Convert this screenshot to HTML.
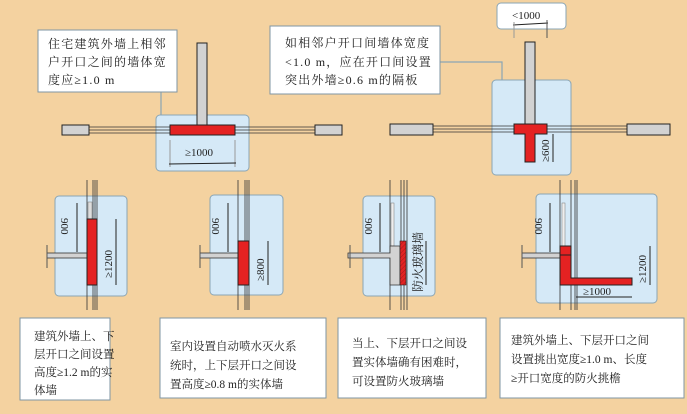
<!DOCTYPE html>
<html><head><meta charset="utf-8"><style>
html,body{margin:0;padding:0;background:#f4d2a0;}
.t{font-family:"Liberation Serif","Noto Serif CJK SC","Noto Sans CJK SC",serif;font-size:11.5px;fill:#222;}
.tt{font-family:"Liberation Serif","Noto Serif CJK SC","Noto Sans CJK SC",serif;font-size:12px;letter-spacing:1.2px;fill:#222;}
.d{font-family:"Liberation Serif",serif;font-size:11px;fill:#222;}
</style></head><body>
<svg width="687" height="409" viewBox="0 0 687 409" xmlns="http://www.w3.org/2000/svg">
<defs><pattern id="h" width="3" height="3" patternUnits="userSpaceOnUse" patternTransform="rotate(45)"><rect width="3" height="3" fill="#e42222"/><line x1="0" y1="0" x2="0" y2="3" stroke="#8a1a1a" stroke-width="0.8"/></pattern></defs>
<rect width="687" height="409" fill="#f4d2a0"/>
<!-- Top-left -->
<line x1="161" y1="92" x2="161" y2="115" stroke="#8aa5b5" stroke-width="1.2"/>
<rect x="156" y="115" width="93" height="56" rx="4" fill="#d5e9f7" stroke="#8aa5b5"/>
<rect x="38" y="30" width="139" height="62" fill="#fff" stroke="#7f96a3"/>
<text class="tt" x="48" y="48">住宅建筑外墙上相邻</text>
<text class="tt" x="48" y="66">户开口之间的墙体宽</text>
<text class="tt" x="48" y="84">度应≥1.0 m</text>
<g stroke="#333" stroke-width="0.8"><line x1="89" y1="127" x2="315" y2="127"/><line x1="89" y1="130" x2="315" y2="130"/><line x1="89" y1="133" x2="315" y2="133"/></g>
<rect x="62" y="125" width="27" height="10" fill="#d2d2d2" stroke="#222"/>
<rect x="315" y="125" width="27" height="10" fill="#d2d2d2" stroke="#222"/>
<rect x="197" y="43" width="10" height="82" fill="#d2d2d2" stroke="#222"/>
<rect x="170" y="125" width="65" height="10" fill="#e42222" stroke="#222"/>
<line x1="170" y1="140" x2="170" y2="167" stroke="#999"/><line x1="235" y1="140" x2="235" y2="167" stroke="#999"/>
<line x1="169" y1="164" x2="236" y2="163" stroke="#222"/>
<text class="d" x="185" y="156">≥1000</text>
<!-- Top-right -->
<polyline points="440,62 502,62 502,80" fill="none" stroke="#8aa5b5" stroke-width="1.2"/>
<rect x="492" y="80" width="79" height="95" rx="4" fill="#d5e9f7" stroke="#8aa5b5"/>
<rect x="270" y="26" width="170" height="68" fill="#fff" stroke="#7f96a3"/>
<text class="tt" x="285" y="47">如相邻户开口间墙体宽度</text>
<text class="tt" x="285" y="66">&lt;1.0 m，应在开口间设置</text>
<text class="tt" x="285" y="84">突出外墙≥0.6 m的隔板</text>
<rect x="497" y="3" width="69" height="26" rx="4" fill="#fff" stroke="#8aa5b5"/>
<text class="d" x="512" y="19">&lt;1000</text>
<line x1="513" y1="25" x2="548" y2="23" stroke="#222"/>
<line x1="514" y1="22" x2="514" y2="38" stroke="#999"/><line x1="547" y1="20" x2="547" y2="38" stroke="#555"/>
<g stroke="#333" stroke-width="0.8"><line x1="433" y1="126" x2="627" y2="126"/><line x1="433" y1="129" x2="627" y2="129"/><line x1="433" y1="132" x2="627" y2="132"/></g>
<rect x="390" y="124" width="43" height="11" fill="#d2d2d2" stroke="#222"/>
<rect x="627" y="124" width="43" height="11" fill="#d2d2d2" stroke="#222"/>
<rect x="525" y="42" width="10" height="82" fill="#d2d2d2" stroke="#222"/>
<path d="M514,124 H547 V134 H535 V162 H525 V134 H514 Z" fill="#e42222" stroke="#222"/>
<line x1="553" y1="134" x2="553" y2="162" stroke="#222"/>
<text class="d" transform="translate(549,162) rotate(-90)">≥600</text>
<!-- Panel 1 -->
<rect x="55" y="196" width="72" height="100" rx="4" fill="#d5e9f7" stroke="#8aa5b5"/>
<g stroke="#333" stroke-width="0.8"><line x1="87" y1="180" x2="87" y2="310"/><line x1="93" y1="180" x2="93" y2="310"/><line x1="95" y1="180" x2="95" y2="310"/><line x1="97" y1="180" x2="97" y2="310"/></g>
<rect x="88" y="202" width="4" height="17" fill="#ddd" stroke="#777" stroke-width="0.5"/>
<rect x="47" y="253" width="40" height="5" fill="#d2d2d2" stroke="#333" stroke-width="0.8"/>
<line x1="47" y1="245" x2="47" y2="268" stroke="#555"/>
<rect x="87" y="219" width="10" height="66" fill="#e42222" stroke="#222"/>
<line x1="77" y1="203" x2="77" y2="252" stroke="#222"/>
<text class="d" transform="translate(61,218) rotate(90)">900</text>
<line x1="116" y1="219" x2="116" y2="285" stroke="#222"/>
<text class="d" transform="translate(112,278) rotate(-90)">≥1200</text>
<!-- Panel 2 -->
<rect x="210" y="195" width="73" height="100" rx="4" fill="#d5e9f7" stroke="#8aa5b5"/>
<g stroke="#333" stroke-width="0.8"><line x1="238" y1="180" x2="238" y2="310"/><line x1="245" y1="180" x2="245" y2="310"/><line x1="247" y1="180" x2="247" y2="310"/><line x1="249" y1="180" x2="249" y2="310"/></g>
<rect x="200" y="253" width="38" height="5" fill="#d2d2d2" stroke="#333" stroke-width="0.8"/>
<line x1="200" y1="245" x2="200" y2="268" stroke="#555"/>
<rect x="238" y="241" width="11" height="44" fill="#e42222" stroke="#222"/>
<line x1="228" y1="203" x2="228" y2="252" stroke="#222"/>
<text class="d" transform="translate(212,218) rotate(90)">900</text>
<line x1="268" y1="241" x2="268" y2="285" stroke="#222"/>
<text class="d" transform="translate(264,281) rotate(-90)">≥800</text>
<!-- Panel 3 -->
<rect x="363" y="196" width="72" height="100" rx="4" fill="#d5e9f7" stroke="#8aa5b5"/>
<g stroke="#333" stroke-width="0.8"><line x1="390" y1="180" x2="390" y2="310"/><line x1="401" y1="180" x2="401" y2="310"/><line x1="404" y1="180" x2="404" y2="310"/><line x1="407" y1="180" x2="407" y2="310"/></g>
<rect x="391" y="203" width="3" height="43" fill="#eee" stroke="#777" stroke-width="0.5"/>
<path d="M348,253 H390 V246 H400 V285 H390 V258 H348 Z" fill="#d2d2d2" stroke="#333" stroke-width="0.8"/>
<line x1="350" y1="245" x2="350" y2="268" stroke="#555"/>
<rect x="400" y="241" width="6" height="44" fill="url(#h)" stroke="#222" stroke-width="0.6"/>
<line x1="380" y1="203" x2="380" y2="252" stroke="#222"/>
<text class="d" transform="translate(365,218) rotate(90)">900</text>
<line x1="426" y1="241" x2="426" y2="285" stroke="#222"/>
<text class="t" transform="translate(422,292) rotate(-90)" style="font-size:12px">防火玻璃墙</text>
<!-- Panel 4 -->
<rect x="536" y="194" width="121" height="109" rx="4" fill="#d5e9f7" stroke="#8aa5b5"/>
<g stroke="#333" stroke-width="0.8"><line x1="560" y1="180" x2="560" y2="310"/><line x1="571" y1="180" x2="571" y2="310"/><line x1="575" y1="180" x2="575" y2="310"/><line x1="577" y1="180" x2="577" y2="310"/></g>
<rect x="562" y="203" width="3" height="43" fill="#eee" stroke="#777" stroke-width="0.5"/>
<rect x="522" y="253" width="38" height="5" fill="#d2d2d2" stroke="#333" stroke-width="0.8"/>
<line x1="522" y1="245" x2="522" y2="268" stroke="#555"/>
<path d="M560,246 H571 V278 H632 V285 H560 Z" fill="#e42222" stroke="#222"/>
<line x1="560" y1="255" x2="571" y2="255" stroke="#222"/>
<line x1="550" y1="203" x2="550" y2="252" stroke="#222"/>
<text class="d" transform="translate(535,218) rotate(90)">900</text>
<line x1="650" y1="246" x2="650" y2="285" stroke="#222"/>
<text class="d" transform="translate(646,283) rotate(-90)">≥1200</text>
<line x1="576" y1="297" x2="632" y2="297" stroke="#222"/>
<text class="d" x="583" y="295">≥1000</text>
<!-- Bottom boxes -->
<rect x="20" y="318" width="90" height="82" fill="#fff" stroke="#7f96a3"/>
<text class="t" x="34" y="340">建筑外墙上、下</text>
<text class="t" x="34" y="358">层开口之间设置</text>
<text class="t" x="34" y="376">高度≥1.2 m的实</text>
<text class="t" x="34" y="394">体墙</text>
<rect x="160" y="318" width="166" height="80" fill="#fff" stroke="#7f96a3"/>
<text class="t" x="170" y="350">室内设置自动喷水灭火系</text>
<text class="t" x="170" y="369">统时，上下层开口之间设</text>
<text class="t" x="170" y="388">置高度≥0.8 m的实体墙</text>
<rect x="338" y="318" width="148" height="80" fill="#fff" stroke="#7f96a3"/>
<text class="t" x="352" y="347">当上、下层开口之间设</text>
<text class="t" x="352" y="366">置实体墙确有困难时，</text>
<text class="t" x="352" y="385">可设置防火玻璃墙</text>
<rect x="500" y="318" width="184" height="80" fill="#fff" stroke="#7f96a3"/>
<text class="t" x="511" y="344">建筑外墙上、下层开口之间</text>
<text class="t" x="511" y="363">设置挑出宽度≥1.0 m、长度</text>
<text class="t" x="511" y="382">≥开口宽度的防火挑檐</text>
</svg>
</body></html>
